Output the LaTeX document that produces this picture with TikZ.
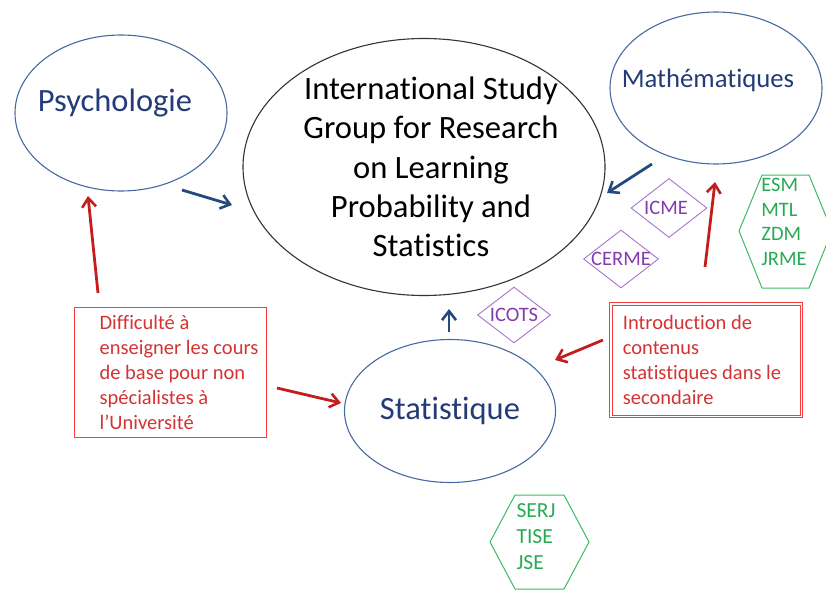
\documentclass[tikz,border=0pt]{standalone}
\usepackage{fontspec}
\setmainfont{Carlito}[Ligatures=NoCommon]
\usepackage{tikz}
\usetikzlibrary{arrows.meta,shapes.geometric}

\definecolor{ellblue}{RGB}{70,105,160}
\definecolor{namblue}{RGB}{35,60,120}
\definecolor{arrblue}{RGB}{35,75,125}
\definecolor{arrred}{RGB}{195,30,30}
\definecolor{boxred}{RGB}{250,60,60}
\definecolor{venuecol}{RGB}{165,115,210}
\definecolor{venuetxt}{RGB}{130,60,175}
\definecolor{jrncol}{RGB}{60,185,100}
\definecolor{jrntxt}{RGB}{40,170,85}

\tikzset{
  fieldell/.style={ellipse, draw=ellblue, line width=1.1pt, inner sep=0pt},
  fieldlbl/.style={namblue, font=\fontsize{32.5}{39}\selectfont},
  probbox/.style={rectangle, draw=boxred, line width=1pt, inner sep=0pt},
  probtxt/.style={boxred!85!black, align=left, font=\fontsize{20.5}{25}\selectfont},
  confbox/.style={diamond, draw=venuecol, line width=0.9pt, inner sep=0pt},
  conftxt/.style={venuetxt, font=\fontsize{20.5}{24}\selectfont},
  jrnhex/.style={draw=jrncol, line width=1pt, line join=round},
  jrnlist/.style={jrntxt, align=left, inner sep=0pt, font=\fontsize{20.5}{24.5}\selectfont},
  bluearr/.style={-{Straight Barb[length=9pt,width=14pt,line width=2.6pt]}, line width=2.8pt, arrblue},
  redarr/.style={-{Straight Barb[length=9pt,width=14pt,line width=2.6pt]}, line width=2.8pt, arrred}
}

\begin{document}
\begin{tikzpicture}[x=1pt, y=-1pt]
\useasboundingbox (0,0) rectangle (826,589);

% the four fields
\node[fieldell, draw=black!80, minimum width=362pt, minimum height=257pt,
      label={[font=\fontsize{32.6}{39.3}\selectfont, align=center, xshift=7pt]center:International Study\\Group for Research\\on Learning\\Probability and\\Statistics}] (isg) at (424,167) {};
\node[fieldell, minimum width=212pt, minimum height=156pt,
      label={[fieldlbl, xshift=-6pt, yshift=10pt]center:Psychologie}] (psy) at (121,113) {};
\node[fieldell, minimum width=212pt, minimum height=152pt,
      label={[fieldlbl, font=\fontsize{26.7}{32}\selectfont, xshift=-8pt, yshift=8pt]center:Mathématiques}] (math) at (716,88) {};
\node[fieldell, minimum width=211pt, minimum height=143pt,
      label={[fieldlbl]center:Statistique}] (stat) at (450,411) {};

% problems
\node[probbox, minimum width=192pt, minimum height=130pt,
      label={[probtxt, xshift=9pt]center:Difficulté à\\enseigner les cours\\de base pour non\\spécialistes à\\l’Université}] (diff) at (170,372) {};
\node[probbox, minimum width=188pt, minimum height=110pt,
      label={[probtxt, xshift=-4pt]center:Introduction de\\contenus\\statistiques dans le\\secondaire}] (intro) at (706,360) {};
\draw[boxred, line width=1pt] ([shift={(-2pt,2pt)}]intro.north west) rectangle ([shift={(2pt,-2pt)}]intro.south east);

% conferences
\node[confbox, minimum width=76pt, minimum height=59pt,
      label={[conftxt, xshift=-3pt]center:ICME}] (icme) at (669,208) {};
\node[confbox, minimum width=75pt, minimum height=58pt,
      label={[conftxt]center:CERME}] (cerme) at (621,259) {};
\node[confbox, minimum width=73pt, minimum height=56pt,
      label={[conftxt]center:ICOTS}] (icots) at (514,315) {};

% journals
\draw[jrnhex] (739,231) -- (762,175) -- (809,175) -- (832,231) -- (809,288) -- (762,288) -- cycle;
\node[jrnlist] (jrnmath) at (784,222) {ESM\\MTL\\ZDM\\JRME};
\draw[jrnhex] (490,542) -- (515,495) -- (564,495) -- (589,542) -- (564,589) -- (515,589) -- cycle;
\node[jrnlist, font=\fontsize{21.5}{26}\selectfont] (jrnstat) at (536,537) {SERJ\\TISE\\JSE};

% arrow ends
\coordinate (psyOut) at (182,190);
\coordinate (isgInW) at (232,205);
\coordinate (mathOut) at (652,164);
\coordinate (isgInE) at (607,193);
\coordinate (statOut) at (449,332);
\coordinate (isgInS) at (449,309);
\coordinate (diffUp) at (98,293);
\coordinate (psyIn) at (88,196);
\coordinate (diffRight) at (277,388);
\coordinate (statInW) at (341,403);
\coordinate (introUp) at (705,267);
\coordinate (mathIn) at (715,182);
\coordinate (introLeft) at (603,340);
\coordinate (statInE) at (555,360);

\draw[bluearr] (psyOut) -- (isgInW);
\draw[bluearr] (mathOut) -- (isgInE);
\draw[bluearr, line width=2.2pt] (statOut) -- (isgInS);
\draw[redarr] (diffUp) -- (psyIn);
\draw[redarr] (diffRight) -- (statInW);
\draw[redarr] (introUp) -- (mathIn);
\draw[redarr] (introLeft) -- (statInE);
\end{tikzpicture}
\end{document}
